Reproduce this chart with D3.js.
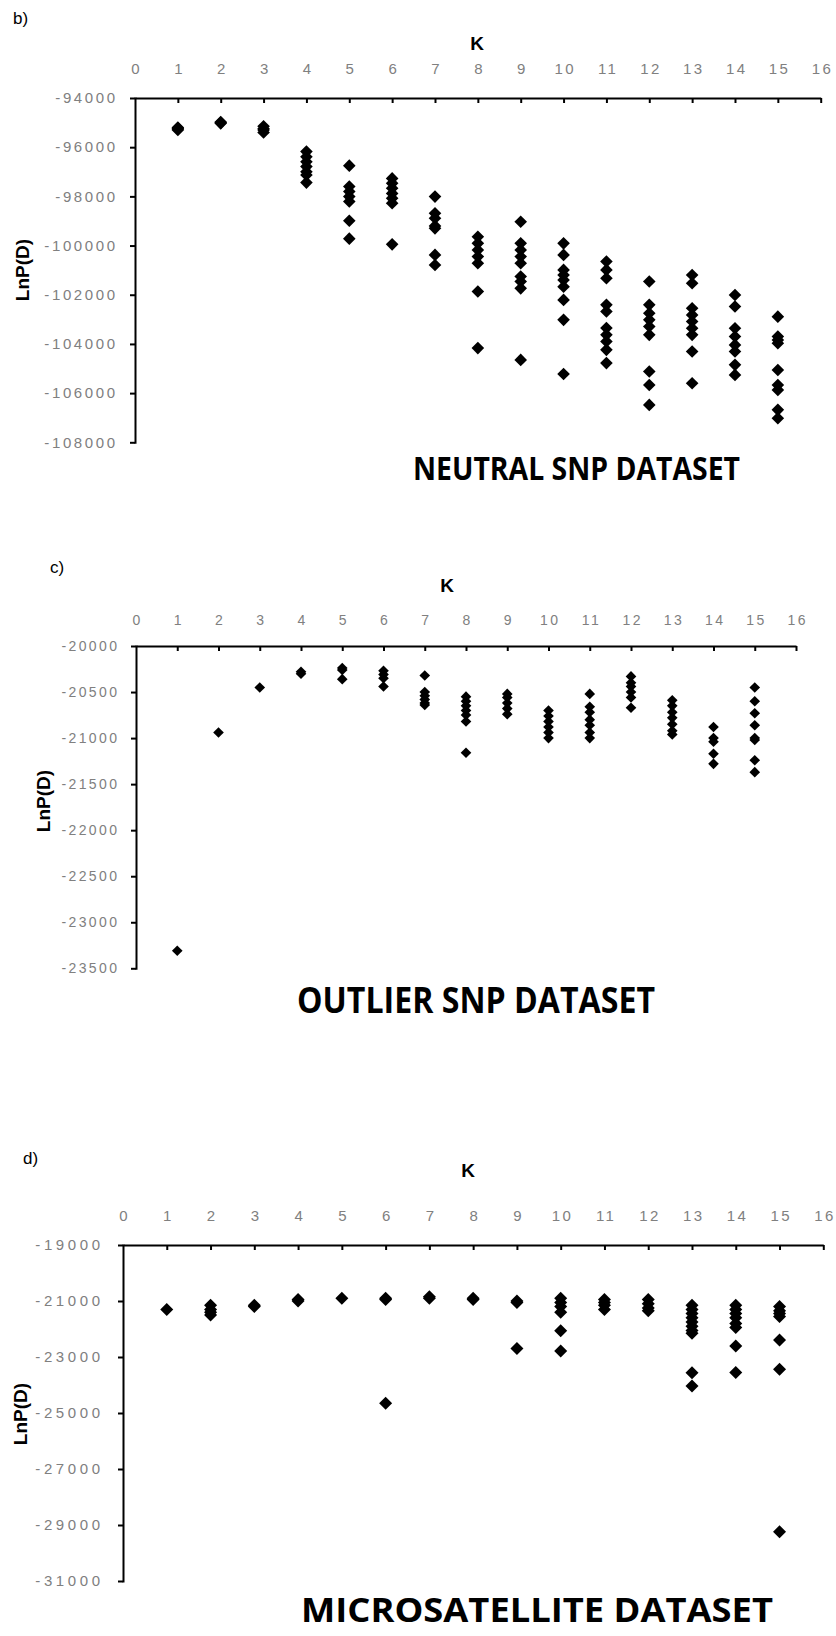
<!DOCTYPE html>
<html>
<head>
<meta charset="utf-8">
<script src="https://cdn.jsdelivr.net/npm/d3@7"></script>
<style>
  html, body { margin: 0; padding: 0; background: #fff; }
  svg { display: block; }
  .tick text { font-family: "Liberation Sans", Arial, sans-serif; fill: #808080; }
  .domain, .tick line { stroke: #000; stroke-width: 2; }
</style>
</head>
<body>
<svg id="chart" width="836" height="1636"></svg>
<script>
// K values on the shared horizontal axis
const kTicks = d3.range(0, 17);

// LnP(D) per run, grouped by K = 1..15
const neutralValues = [
  [-95200, -95230, -95260, -95300],
  [-94980, -95010, -95030],
  [-95150, -95250, -95300, -95400],
  [-96180, -96390, -96590, -96790, -97000, -97130, -97440],
  [-96750, -97600, -97800, -98010, -98210, -98990, -99720],
  [-97270, -97470, -97670, -97880, -98080, -98280, -99950],
  [-98010, -98690, -98890, -99200, -99300, -100380, -100790],
  [-99640, -99910, -100180, -100450, -100720, -101870, -104170],
  [-99030, -99910, -100180, -100450, -100720, -101260, -101460, -101740, -104650],
  [-99910, -100380, -100990, -101200, -101400, -101670, -102210, -103020, -105220],
  [-100650, -100990, -101330, -102410, -102680, -103350, -103630, -103900, -104240, -104780],
  [-101460, -102410, -102750, -103020, -103290, -103630, -105120, -105670, -106480],
  [-101200, -101530, -102550, -102820, -103090, -103360, -103630, -104310, -105600],
  [-102010, -102480, -103360, -103700, -104040, -104310, -104850, -105260],
  [-102890, -103700, -103840, -103970, -105060, -105670, -105870, -106680, -107020]
];
const outlierValues = [
  [-23310],
  [-20940],
  [-20450],
  [-20280, -20300],
  [-20240, -20260, -20360],
  [-20270, -20310, -20350, -20440],
  [-20320, -20500, -20540, -20580, -20620, -20640],
  [-20550, -20600, -20650, -20700, -20750, -20820, -21160],
  [-20520, -20560, -20620, -20680, -20740],
  [-20700, -20760, -20820, -20880, -20940, -21000],
  [-20520, -20660, -20720, -20800, -20860, -20940, -21000],
  [-20330, -20400, -20440, -20500, -20560, -20670],
  [-20590, -20650, -20720, -20780, -20850, -20920, -20960],
  [-20880, -21000, -21040, -21170, -21280],
  [-20450, -20600, -20730, -20860, -21000, -21020, -21240, -21370]
];
const microValues = [
  [-21300],
  [-21150, -21300, -21400, -21500],
  [-21150, -21200],
  [-20950, -21000],
  [-20900],
  [-20900, -20950, -24650],
  [-20850, -20900],
  [-20900, -20950],
  [-21000, -21050, -22700],
  [-20900, -21050, -21200, -21400, -22060, -22790],
  [-20950, -21050, -21150, -21300],
  [-20950, -21100, -21250, -21350],
  [-21150, -21300, -21450, -21600, -21750, -21900, -22050, -22150, -23560, -24040],
  [-21150, -21300, -21450, -21600, -21800, -21950, -22610, -23550],
  [-21200, -21350, -21450, -21550, -22390, -23440, -29240]
];

// Vertical tick values for each panel
const neutralYTicks = d3.range(-94000, -108001, -2000);
const outlierYTicks = d3.range(-20000, -23501, -500);
const microYTicks = d3.range(-19000, -31001, -2000);

const svg = d3.select("#chart");
svg.append("rect").attr("width", 836).attr("height", 1636).attr("fill", "#fff");

const panels = [
  {
    letter: "b)", title: "NEUTRAL SNP DATASET", values: neutralValues, yTicks: neutralYTicks,
    left: 135, right: 820.7, top: 98, bottom: 442.3,
    letterPos: [13, 24], kPos: [477, 50], yLabelPos: [29, 270],
    titlePos: [413, 480], titleSize: 32, titleLen: 327,
    fontSize: 15, spacing: 2.6, xSpacing: 2.4, xPad: 24, yPad: 15, r: 6.3
  },
  {
    letter: "c)", title: "OUTLIER SNP DATASET", values: outlierValues, yTicks: outlierYTicks,
    left: 136, right: 796, top: 646, bottom: 968.3,
    letterPos: [50, 573], kPos: [447, 592], yLabelPos: [50, 801],
    titlePos: [297, 1013], titleSize: 36, titleLen: 358,
    fontSize: 14, spacing: 2.4, xSpacing: 2.4, xPad: 21, yPad: 14, r: 5.3
  },
  {
    letter: "d)", title: "MICROSATELLITE DATASET", values: microValues, yTicks: microYTicks,
    left: 123, right: 823.3, top: 1245, bottom: 1581,
    letterPos: [23, 1164], kPos: [468, 1177], yLabelPos: [27, 1414],
    titlePos: [301, 1622], titleSize: 34, titleLen: 472,
    fontSize: 15, spacing: 3.6, xSpacing: 2.4, xPad: 24, yPad: 18, r: 6.5
  }
];

const diamond = r => `M0,${-r}L${r},0L0,${r}L${-r},0Z`;

panels.forEach(p => {
  const x = d3.scaleLinear().domain([0, 16]).range([p.left, p.right]);
  const y = d3.scaleLinear()
    .domain([p.yTicks[0], p.yTicks[p.yTicks.length - 1]])
    .range([p.top, p.bottom]);

  const g = svg.append("g");

  // K axis along the top, ticks pointing into the plot
  const xAxis = g.append("g")
    .attr("transform", `translate(0,${p.top})`)
    .call(d3.axisTop(x).tickValues(kTicks).tickSizeInner(-5).tickSizeOuter(0)
      .tickPadding(p.xPad).tickFormat(d => String(d)));
  xAxis.selectAll(".tick text")
    .attr("font-size", p.fontSize)
    .style("letter-spacing", p.xSpacing + "px")
    .attr("dx", p.xSpacing / 2);
  xAxis.select(".tick line").remove();

  // LnP(D) axis on the left
  const yAxis = g.append("g")
    .attr("transform", `translate(${p.left},0)`)
    .call(d3.axisLeft(y).tickValues(p.yTicks).tickSizeInner(5).tickSizeOuter(0)
      .tickPadding(p.yPad).tickFormat(d => String(d)));
  yAxis.selectAll(".tick text")
    .attr("font-size", p.fontSize)
    .style("letter-spacing", p.spacing + "px")
    .attr("dx", p.spacing);
  yAxis.selectAll(".domain").attr("stroke-linecap", "square");

  // runs as black diamonds
  const pts = p.values.flatMap((vals, i) => vals.map(v => ({ k: i + 1, v })));
  g.append("g").selectAll("path")
    .data(pts)
    .join("path")
    .attr("transform", d => `translate(${x(d.k)},${y(d.v)})`)
    .attr("d", diamond(p.r))
    .attr("fill", "#000");

  // panel letter
  g.append("text")
    .attr("x", p.letterPos[0]).attr("y", p.letterPos[1])
    .attr("font-family", "Liberation Sans, Arial, sans-serif")
    .attr("font-size", 17)
    .attr("fill", "#000")
    .text(p.letter);

  // axis titles
  g.append("text")
    .attr("x", p.kPos[0]).attr("y", p.kPos[1])
    .attr("text-anchor", "middle")
    .attr("font-family", "Liberation Sans, Arial, sans-serif")
    .attr("font-weight", "bold")
    .attr("font-size", 19)
    .text("K");

  g.append("text")
    .attr("transform", `translate(${p.yLabelPos[0]},${p.yLabelPos[1]}) rotate(-90)`)
    .attr("text-anchor", "middle")
    .attr("font-family", "Liberation Sans, Arial, sans-serif")
    .attr("font-weight", "bold")
    .attr("font-size", 19)
    .text("LnP(D)");

  // dataset caption
  g.append("text")
    .attr("x", p.titlePos[0]).attr("y", p.titlePos[1])
    .attr("font-family", "Open Sans, sans-serif")
    .attr("font-weight", "bold")
    .attr("font-size", p.titleSize)
    .attr("textLength", p.titleLen)
    .attr("lengthAdjust", "spacingAndGlyphs")
    .attr("fill", "#000")
    .text(p.title);
});
</script>
</body>
</html>
